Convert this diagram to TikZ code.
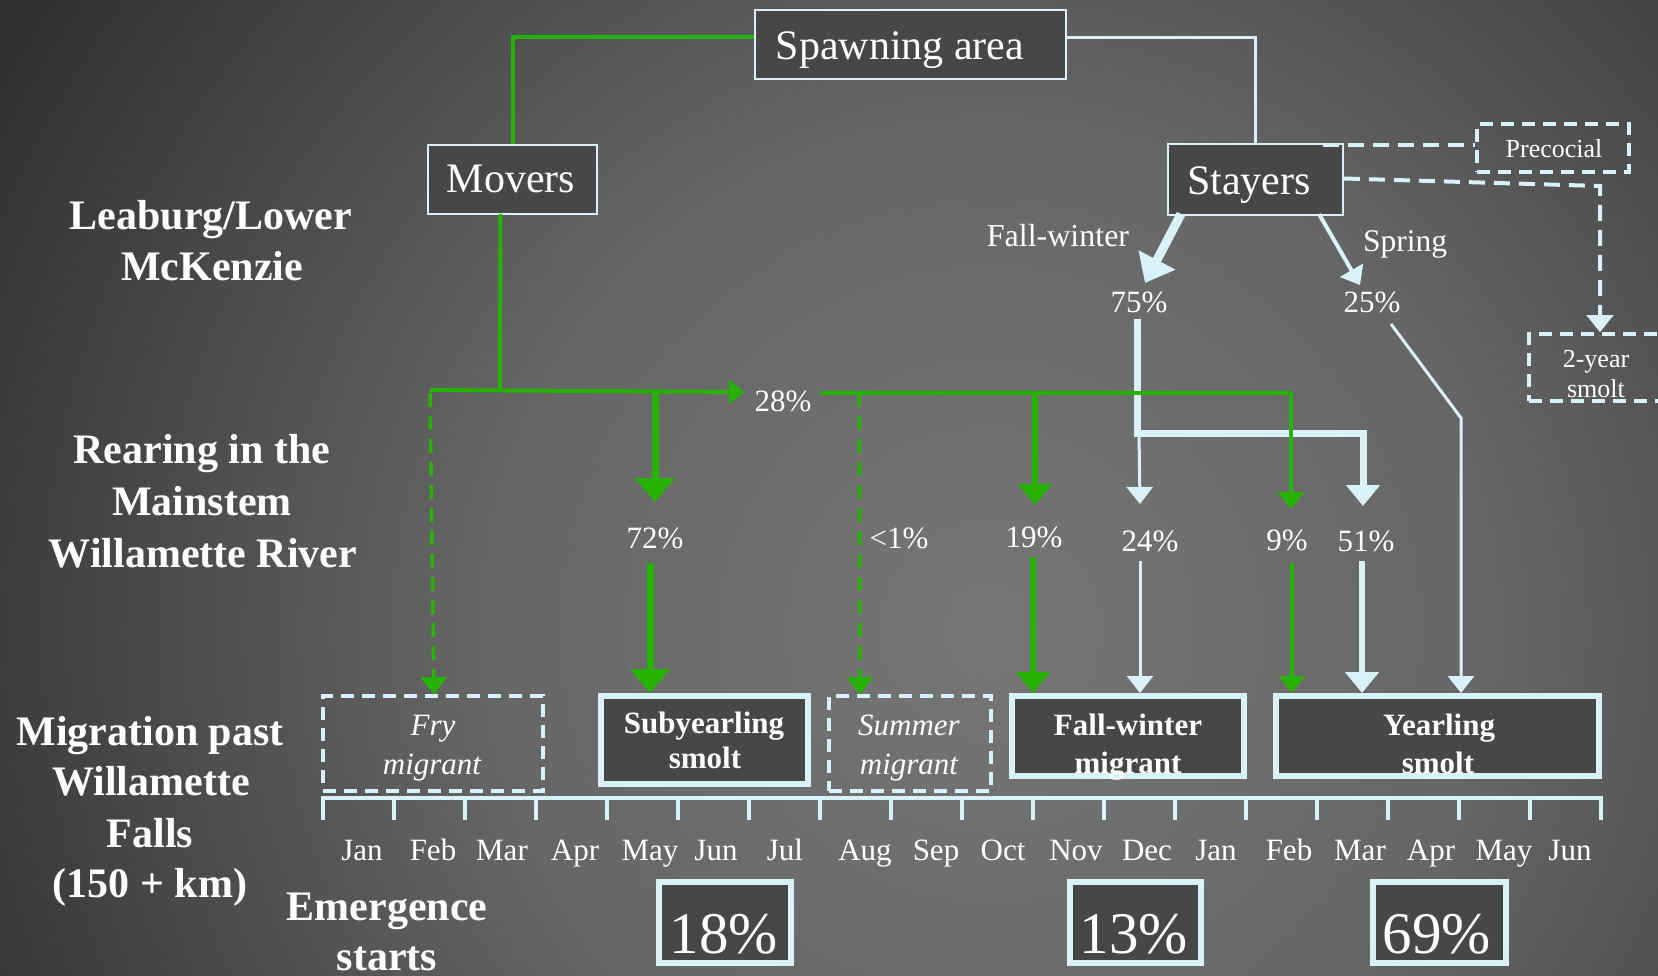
\documentclass[tikz,border=0pt]{standalone}
\usepackage{fontspec}
\setmainfont{Liberation Serif}
\usetikzlibrary{arrows.meta}
\definecolor{grn}{RGB}{40,178,0}
\definecolor{lite}{RGB}{216,242,248}
\definecolor{boxfill}{RGB}{71,71,71}
\definecolor{bgc0}{RGB}{118,118,118}
\definecolor{bgc1}{RGB}{102,102,102}
\definecolor{bgc2}{RGB}{50,50,50}
\definecolor{bgc3}{RGB}{30,30,30}
\definecolor{bgc4}{RGB}{15,15,15}
\definecolor{bgbase}{RGB}{6,6,6}
\pgfdeclareradialshading{bgrad}{\pgfpointorigin}{color(0bp)=(bgc0); color(12.7bp)=(bgc1); color(28bp)=(bgc2); color(36bp)=(bgc3); color(42.5bp)=(bgc4); color(50bp)=(bgbase)}
\newcommand\myfs[1]{\fontsize{#1}{#1}\selectfont}
\begin{document}
\begin{tikzpicture}[x=1pt,y=-1pt,
  txt/.style={text=white, inner sep=0pt, anchor=base},
  sbox/.style={draw=lite, fill=boxfill, inner sep=0pt},
  dbox/.style={draw=lite, line width=3.5pt, dash pattern=on 13pt off 8pt, inner sep=0pt},
  gln/.style={draw=grn, line width=4pt},
  lln/.style={draw=lite, line width=3pt},
  gdash/.style={draw=grn, line width=3.5pt, dash pattern=on 14pt off 9pt},
  ldash/.style={draw=lite, line width=4pt, dash pattern=on 16pt off 9pt},
  tipS/.style={-{Triangle[width=26pt,length=17pt]}},
  tipM/.style={-{Triangle[width=33pt,length=21pt]}},
  tipL/.style={-{Triangle[width=39pt,length=24pt]}},
  big/.style={font=\myfs{42}},
  bigb/.style={font=\bfseries\myfs{42}},
  mid/.style={font=\myfs{31}},
]
\useasboundingbox (0,0) rectangle (1658,976);
% background
\begin{scope}
\clip (0,0) rectangle (1658,976);
\fill[bgbase] (0,0) rectangle (1658,976);
\shade[shading=bgrad] (-10,-370) rectangle (1990,1630);
\end{scope}

% left labels
\node[txt, bigb] (l1a) at (211,230) {Leaburg/Lower};
\node[txt, bigb] (l1b) at (212,281) {McKenzie};
\node[txt, bigb] (l2a) at (202,463) {Rearing in the};
\node[txt, bigb] (l2b) at (202,515) {Mainstem};
\node[txt, bigb] (l2c) at (203,567) {Willamette River};
\node[txt, bigb] (l3a) at (150,745) {Migration past};
\node[txt, bigb] (l3b) at (151,795) {Willamette};
\node[txt, bigb] (l3c) at (150,847) {Falls};
\node[txt, bigb] (l3d) at (150,897) {(150 + km)};
\node[txt, bigb] (l4a) at (387,920) {Emergence};
\node[txt, bigb] (l4b) at (387,970) {starts};

% top boxes
\node[sbox, line width=2pt, minimum width=311pt, minimum height=69pt] (spawn) at (910.5,44.5) {};
\node[txt, big] (spawnt) at (900,60) {Spawning area};
\node[sbox, line width=2pt, minimum width=169pt, minimum height=69pt] (movers) at (512.5,179.5) {};
\node[txt, big] (moverst) at (511,193) {Movers};
\node[sbox, line width=2pt, minimum width=175pt, minimum height=71pt] (stayers) at (1255.5,179.5) {};
\node[txt, big] (stayerst) at (1249,195) {Stayers};
\node[dbox, minimum width=152pt, minimum height=48pt] (prec) at (1553,148) {};
\node[txt, font=\myfs{26}] (prect) at (1554,158) {Precocial};
\node[dbox, minimum width=146pt, minimum height=67pt] (twoyr) at (1602,367.5) {};
\node[txt, font=\myfs{26}] (twoyra) at (1596,367) {2-year};
\node[txt, font=\myfs{26}] (twoyrb) at (1596,398) {smolt};

% top connectors
\coordinate (g0) at (513,37);
\draw[gln, line width=3.5pt] (spawn.west |- g0) -- (g0) -- (g0 |- movers.north);
\coordinate (l0) at (1255,38);
\draw[lln] (spawn.east |- l0) -- (l0) -- (l0 |- stayers.north);
\coordinate (pc) at (1323,145);
\draw[ldash] (pc) -- (pc -| prec.west);
\coordinate (tw1) at (1600,186);
\draw[ldash, tipS] ([yshift=1pt]stayers.east) -- (tw1) -- (tw1 |- twoyr.north);

% stayers branches
\node[txt, font=\myfs{32}] (fwl) at (1058,247) {Fall-winter};
\node[txt, font=\myfs{31.5}] (spl) at (1405,252) {Spring};
\node[txt, font=\myfs{31}] (p75) at (1139,313) {75\%};
\node[txt, font=\myfs{31}] (p25) at (1372,313) {25\%};
\coordinate (fwtip) at (1145,283);
\coordinate (sptip) at (1360,285);
\draw[lite, line width=9pt, -{Triangle[width=40pt,length=26pt]}] ([xshift=14pt,yshift=2pt]stayers.south west) -- (fwtip);
\draw[lite, line width=4pt, tipS] ([xshift=-25pt,yshift=2pt]stayers.south east) -- (sptip);

% bottom boxes
\node[dbox, minimum width=220pt, minimum height=95pt] (fry) at (433,743.5) {};
\node[txt, font=\itshape\myfs{31}] (frya) at (433,735) {Fry};
\node[txt, font=\itshape\myfs{31}] (fryb) at (432,774) {migrant};
\node[sbox, line width=6pt, minimum width=207pt, minimum height=88pt] (sub) at (704.5,740) {};
\node[txt, font=\bfseries\myfs{31}] (suba) at (704,733) {Subyearling};
\node[txt, font=\bfseries\myfs{31}] (subb) at (705,768) {smolt};
\node[dbox, minimum width=162pt, minimum height=95pt] (sum) at (910,743.5) {};
\node[txt, font=\itshape\myfs{31}] (suma) at (909,735) {Summer};
\node[txt, font=\itshape\myfs{31}] (sumb) at (909,774) {migrant};
\node[sbox, line width=6pt, minimum width=232pt, minimum height=80pt] (fallw) at (1128,736) {};
\node[txt, font=\bfseries\myfs{31}] (fallwa) at (1128,735) {Fall-winter};
\node[txt, font=\bfseries\myfs{31}] (fallwb) at (1128,773) {migrant};
\node[sbox, line width=6pt, minimum width=323pt, minimum height=80pt] (year) at (1437.5,736) {};
\node[txt, font=\bfseries\myfs{31}] (yeara) at (1439,735) {Yearling};
\node[txt, font=\bfseries\myfs{31}] (yearb) at (1438,773) {smolt};

% helper coordinates
\coordinate (j75) at (1137,433);
\coordinate (c51) at (1363,433);
\coordinate (x25) at (1461,418);
\coordinate (xfry) at (434,400);
\coordinate (xsum) at (860,400);
\coordinate (x72) at (650,563);
\coordinate (x19) at (1033,557);
\coordinate (x24) at (1140,561);
\coordinate (x9) at (1292,563);
\coordinate (x51) at (1362,561);

% light flows from stayers
\draw[lite, line width=7pt] ([yshift=-5pt]p75.south -| j75) -- (j75);
\draw[lite, line width=7pt, line join=miter, tipM] ([xshift=-3.5pt]j75) -- (c51) -- (1363,506);
\draw[lite, line width=3pt, tipS] (1139,433) -- (1140,504);
\draw[lln, tipS] (1391,324) -- (x25) -- (x25 |- year.north);

% green flows
\draw[gln] ([xshift=-12pt,yshift=1pt]movers.south) -- (500,391);
\draw[gln, -{Triangle[width=24pt,length=15pt]}] (430,390) -- (744,392);
\node[txt, font=\myfs{31}] (p28) at (783,411) {28\%};
\draw[gln, tipS] (820,393) -- (1291,393) -- (1291,509);
\draw[gdash, tipS] (430,393) -- (xfry |- fry.north);
\draw[grn, line width=7pt, tipL] (655,390) -- (655,502);
\draw[gdash, tipS] (859,393) -- (xsum |- sum.north);
\draw[grn, line width=5.5pt, tipM] (1035,393) -- (1035,505);

% percentage labels
\node[txt, font=\myfs{31}] (p72) at (655,548) {72\%};
\node[txt, font=\myfs{31}] (plt1) at (899,548) {<1\%};
\node[txt, font=\myfs{31}] (p19) at (1034,547) {19\%};
\node[txt, font=\myfs{31}] (p24) at (1150,551) {24\%};
\node[txt, font=\myfs{31}] (p9) at (1287,550) {9\%};
\node[txt, font=\myfs{31}] (p51) at (1366,551) {51\%};

% lower arrows
\draw[grn, line width=7pt, tipL] (x72) -- (x72 |- sub.north);
\draw[grn, line width=5.5pt, tipM] (x19) -- (x19 |- fallw.north);
\draw[lite, line width=3pt, tipS] (x24) -- (x24 |- fallw.north);
\draw[grn, line width=4pt, tipS] (x9) -- (x9 |- year.north);
\draw[lite, line width=6.5pt, tipM] (x51) -- (x51 |- year.north);

% axis
\draw[lite, line width=4pt] (323,798) -- (1601,798);
\foreach \i in {0,...,18} \draw[lite, line width=3.5pt] ({323+71*\i},796) -- ({323+71*\i},820);
\foreach \m/\x in {Jan/362, Feb/433, Mar/502, Apr/575, May/650, Jun/716, Jul/785, Aug/865, Sep/936, Oct/1003, Nov/1076, Dec/1147, Jan/1216, Feb/1289, Mar/1360, Apr/1431, May/1504, Jun/1570}
  \node[txt, mid] at (\x,860) {\m};

% emergence boxes
\node[sbox, line width=6pt, minimum width=132pt, minimum height=81pt] (e18) at (725,922.5) {};
\node[txt, font=\myfs{59}] (e18t) at (724,953) {18\%};
\node[sbox, line width=6pt, minimum width=131.5pt, minimum height=81pt] (e13) at (1135.25,922.5) {};
\node[txt, font=\myfs{59}] (e13t) at (1134,953) {13\%};
\node[sbox, line width=6pt, minimum width=132.5pt, minimum height=81pt] (e69) at (1439.25,922.5) {};
\node[txt, font=\myfs{59}] (e69t) at (1437,953) {69\%};
\end{tikzpicture}
\end{document}
